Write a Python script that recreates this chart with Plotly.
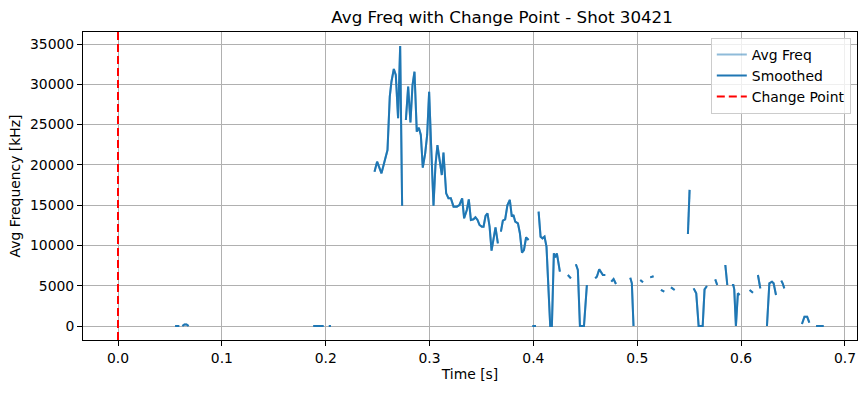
import plotly.graph_objects as go

# ---- data (None = gap in the series) ----
time_s = [
    0.055, 0.057, 0.059, None,
    0.062, 0.064, 0.066, 0.068, None,
    0.188, 0.190, 0.192, 0.194, 0.196, 0.198, None,
    0.203, 0.205, None,
    0.247, 0.2495, 0.2537, 0.2575, 0.2595, 0.2617, 0.2633, 0.2656, 0.2675, 0.2697, 0.2717, 0.2736, None,
    0.2772, 0.2794, 0.2816, 0.2836, 0.2855, 0.2877, 0.2897, 0.2916, 0.2935, 0.2958, 0.2977, 0.2996,
    0.3015, 0.3038, 0.3057, 0.3076, 0.3118, 0.3134, 0.316, 0.3182, 0.3205, 0.3231, 0.3263, 0.3288,
    0.3314, 0.3333, 0.3359, 0.3378, 0.3398, 0.3423, 0.3442, 0.3462, 0.3481, 0.3504, 0.352, 0.3539,
    0.3558, 0.3578, 0.3597, 0.3616, 0.3635, 0.3658, None,
    0.3687, 0.3706, 0.3728, 0.375, 0.3773, 0.3792, 0.3808, 0.3825, 0.3851, 0.387, 0.389, 0.3909,
    0.393, 0.3953, None,
    0.399, 0.4025, None,
    0.405, 0.4069, 0.4088, 0.4107, 0.4126, 0.4145, 0.4162, 0.4178, 0.4197, 0.421, 0.4226, 0.4242, 0.4255, None,
    0.4332, 0.4361, None,
    0.4409, 0.4428, 0.4448, 0.4487, 0.4515, None,
    0.4595, 0.4611, 0.4634, 0.465, 0.4669, 0.4692, None,
    0.475, 0.4772, 0.4795, None,
    0.4933, 0.4948, 0.4964, None,
    0.5029, 0.5055, None,
    0.5125, 0.5157, None,
    0.5228, 0.526, None,
    0.5325, 0.536, None,
    0.5488, 0.5504, None,
    0.5543, 0.5568, 0.5591, 0.563, 0.5648, 0.5671, None,
    0.5751, 0.577, None,
    0.5848, 0.5867, None,
    0.5912, 0.5925, 0.5934, 0.595, 0.5969, 0.5986, None,
    0.6082, 0.6114, None,
    0.6162, 0.6185, None,
    0.6249, 0.6272, 0.6297, 0.6313, 0.6336, None,
    0.6387, 0.64, 0.6416, None,
    0.6586, 0.661, 0.6636, 0.6657, None,
    0.6722, 0.6745, 0.677, 0.6795,
]

avg_freq_khz = [
    0, 0, 0, None,
    0, 200, 200, 0, None,
    0, 0, 0, 0, 0, 0, None,
    0, 0, None,
    19150, 20390, 18950, 20810, 21840, 28460, 30320, 31900, 31150, 25780, 34750, 14930, None,
    25570, 29710, 25280, 29910, 31560, 24120, 24620, 23710, 19650, 21430, 23710, 29080,
    22460, 14930, 19980, 22460, 18740, 21510, 16470, 15850, 15850, 14810, 14810, 15020,
    15850, 13370, 14400, 15720, 13160, 13240, 13490, 13160, 12540, 12330, 12330, 13650,
    13990, 12330, 9350, 10670, 12250, 10260, None,
    11710, 13070, 13240, 15020, 15640, 13570, 13780, 12950, 12750, 11510, 9100, 9430,
    11010, 10670, None,
    0, 0, None,
    14190, 11090, 10880, 11090, 9850, 4880, 0, 0, 9020, 8520, 9020, 7780, 6740, None,
    6330, 5920, None,
    7660, 6950, 0, 0, 5090, None,
    5920, 6120, 7040, 6740, 6330, 6330, None,
    5500, 5830, 5210, None,
    6000, 5300, 0, None,
    5710, 5420, None,
    6040, 6170, None,
    4470, 4260, None,
    4800, 4470, None,
    11420, 16900, None,
    4670, 4060, 0, 0, 4550, 4960, None,
    5790, 5090, None,
    7570, 5090, None,
    5090, 5090, 4550, 0, 4060, 3850, None,
    4470, 4130, None,
    6330, 4670, None,
    0, 5300, 5500, 5300, 3850, None,
    5630, 5300, 4670, None,
    250, 1160, 1160, 410, None,
    0, 0, 0, 0,
]

change_point_s = 0.0
title_text = "Avg Freq with Change Point - Shot 30421"
x_tick_vals = [0.0, 0.1, 0.2, 0.3, 0.4, 0.5, 0.6, 0.7]
x_tick_text = ["0.0", "0.1", "0.2", "0.3", "0.4", "0.5", "0.6", "0.7"]
y_tick_vals = [0, 5000, 10000, 15000, 20000, 25000, 30000, 35000]
y_tick_text = ["0", "5000", "10000", "15000", "20000", "25000", "30000", "35000"]

BLUE = "#1f77b4"
FONT = "DejaVu Sans"
TICK_PX = 13.9
TITLE_PX = 16.7

fig = go.Figure()
fig.add_trace(go.Scatter(
    x=time_s, y=avg_freq_khz, mode="lines", name="Avg Freq",
    line=dict(color="rgba(31,119,180,0.5)", width=2), connectgaps=False,
))
fig.add_trace(go.Scatter(
    x=time_s, y=avg_freq_khz, mode="lines", name="Smoothed",
    line=dict(color=BLUE, width=2), connectgaps=False,
))
# legend entry for change point; the line itself is drawn as a vline
fig.add_trace(go.Scatter(
    x=[None], y=[None], mode="lines", name="Change Point",
    line=dict(color="red", width=2, dash="8px,4px"),
))
fig.add_vline(x=change_point_s, line=dict(color="red", width=2, dash="8px,4px"), layer="above")

axis_common = dict(
    showgrid=True, gridcolor="#b0b0b0", gridwidth=1,
    showline=True, linecolor="black", linewidth=1, mirror=True,
    ticks="outside", ticklen=5, tickcolor="black", tickwidth=1,
    zeroline=False, automargin=False,
    tickfont=dict(family=FONT, size=TICK_PX, color="black"),
)

fig.update_layout(
    width=868, height=393,
    margin=dict(l=83, r=11, t=32, b=53),
    paper_bgcolor="white", plot_bgcolor="white",
    font=dict(family=FONT, size=TICK_PX, color="black"),
    title=dict(text=title_text, x=(83 + 857) / 2 / 868, xref="paper", xanchor="center",
               y=1 - 17 / 393, yanchor="middle", automargin=False,
               font=dict(family=FONT, size=TITLE_PX, color="black")),
    xaxis=dict(range=[-0.0337, 0.7116], tickvals=x_tick_vals, ticktext=x_tick_text,
               title=dict(text="Time [s]", font=dict(family=FONT, size=TICK_PX), standoff=4),
               **axis_common),
    yaxis=dict(range=[-1738, 36490], tickvals=y_tick_vals, ticktext=y_tick_text,
               title=dict(text="Avg Frequency [kHz]", font=dict(family=FONT, size=TICK_PX), standoff=6),
               **axis_common),
    legend=dict(x=0.992, xanchor="right", y=0.981, yanchor="top",
                bgcolor="rgba(255,255,255,0.8)", bordercolor="#cccccc", borderwidth=1,
                font=dict(family=FONT, size=TICK_PX), tracegroupgap=2),
    showlegend=True,
)

fig.write_html("out.html", config={"displayModeBar": False},
               post_script="document.body.style.margin='0';")
